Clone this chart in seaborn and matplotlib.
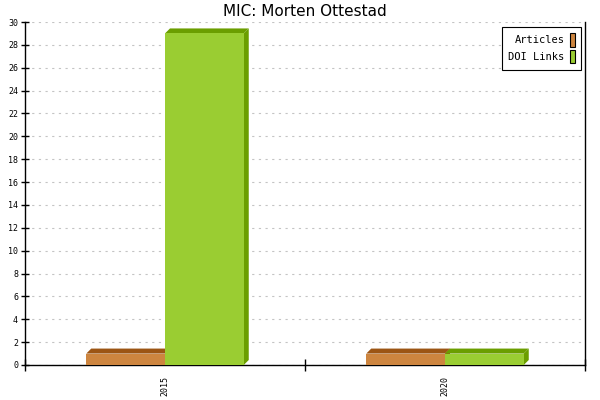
import pandas as pd
import matplotlib
matplotlib.use("Agg")
import matplotlib.pyplot as plt
import seaborn as sns
from matplotlib.patches import Polygon, Rectangle

# Data
years = ["2015", "2020"]
articles = [1, 1]
doi_links = [29, 1]
series = ["Articles", "DOI Links"]
colors = {"Articles": "#CD853F", "DOI Links": "#9ACD32"}
dark = {"Articles": "#9C5514", "DOI Links": "#6B9E00"}

df = pd.DataFrame({
    "Year": years * 2,
    "Series": ["Articles"] * len(years) + ["DOI Links"] * len(years),
    "Count": articles + doi_links,
})

sns.set_style("white")
plt.rcParams["font.family"] = ["DejaVu Sans"]
plt.rcParams["text.color"] = "black"
plt.rcParams["xtick.color"] = "black"
plt.rcParams["ytick.color"] = "black"

fig = plt.figure(figsize=(6, 4), dpi=100)
ax = fig.add_axes([25 / 600, 35 / 400, 560 / 600, 343 / 400])

sns.barplot(data=df, x="Year", y="Count", hue="Series", hue_order=series,
            palette=colors, width=0.5625, gap=0, saturation=1,
            linewidth=0, ax=ax, legend=False, zorder=3)

ax.set_xlim(-0.5, 1.5)
ax.set_ylim(0, 30)

# fake 3D depth on each bar
dx = 5 / 280
dy = 5 / 343 * 30
for patch, name in zip(ax.patches, [s for s in series for _ in years]):
    x0, y0 = patch.get_x(), patch.get_y()
    w, h = patch.get_width(), patch.get_height()
    top = Polygon([(x0, y0 + h), (x0 + dx, y0 + h + dy), (x0 + w + dx, y0 + h + dy),
                   (x0 + w, y0 + h)], closed=True, facecolor=dark[name],
                  edgecolor="none", zorder=2.5, clip_on=False)
    side = Polygon([(x0 + w, y0), (x0 + w + dx, y0 + dy), (x0 + w + dx, y0 + h + dy),
                    (x0 + w, y0 + h)], closed=True, facecolor=dark[name],
                   edgecolor="none", zorder=2.5, clip_on=False)
    ax.add_patch(top)
    ax.add_patch(side)

# grid and axes
ax.set_yticks(range(0, 31, 2))
ax.yaxis.grid(True, color="#c4c4c4", linestyle=(0, (2, 4)), linewidth=0.8, zorder=0)
ax.xaxis.grid(False)
for s in ["left", "bottom", "right"]:
    ax.spines[s].set_visible(True)
    ax.spines[s].set_color("black")
    ax.spines[s].set_linewidth(1)
ax.spines["top"].set_visible(False)

mono = "DejaVu Sans Mono"
ax.tick_params(axis="y", direction="inout", length=6, width=1, labelsize=6,
               left=True, pad=2)
for lab in ax.get_yticklabels():
    lab.set_family(mono)

ax.set_xticks([0, 1])
ax.set_xticklabels(years, rotation=90, fontsize=6, family=mono)
ax.tick_params(axis="x", length=0, pad=8)
ax.set_xticks([-0.5, 0.5, 1.5], minor=True)
ax.tick_params(axis="x", which="minor", direction="inout", length=8, width=1, bottom=True)
ax.set_xlabel("")
ax.set_ylabel("")

ax.set_title("MIC: Morten Ottestad", fontsize=11, pad=4, color="black")

handles = [Rectangle((0, 0), 1, 1, facecolor=colors[s], edgecolor="black", linewidth=0.8)
           for s in series]
leg = ax.legend(handles, series, loc="upper right", bbox_to_anchor=(0.993, 0.985),
                borderaxespad=0, markerfirst=False, handlelength=0.5, handleheight=1.6,
                handletextpad=0.5, labelspacing=0.3, borderpad=0.6,
                fancybox=False, framealpha=1, edgecolor="black",
                prop={"family": mono, "size": 7.5})
leg.get_frame().set_linewidth(0.8)

fig.savefig("out.png", dpi=100)
